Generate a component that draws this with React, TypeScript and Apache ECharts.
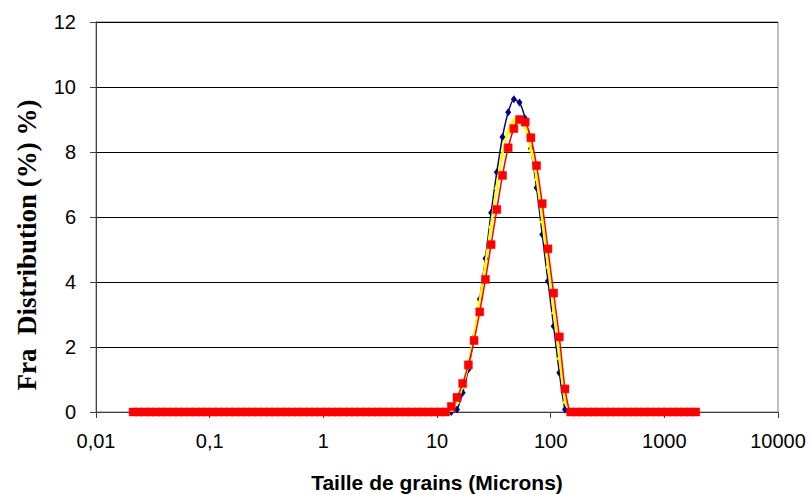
import React, { useEffect, useRef } from "react";
import * as echarts from "echarts";

// Particle size classes (µm), geometric centers
const SIZES = [
  0.0212, 0.0238, 0.0267, 0.0299, 0.0336, 0.0377, 0.0423, 0.0474, 0.0532, 0.0597,
  0.067, 0.0752, 0.0844, 0.0947, 0.1062, 0.1192, 0.1337, 0.15, 0.1683, 0.1889,
  0.2119, 0.2377, 0.2667, 0.2993, 0.3358, 0.3768, 0.4228, 0.4744, 0.5322, 0.5972,
  0.6701, 0.7518, 0.8435, 0.9464, 1.062, 1.192, 1.337, 1.5, 1.683, 1.888,
  2.119, 2.377, 2.667, 2.993, 3.358, 3.768, 4.228, 4.744, 5.322, 5.972,
  6.701, 7.518, 8.435, 9.464, 10.62, 11.92, 13.37, 15.0, 16.83, 18.88,
  21.19, 23.77, 26.67, 29.93, 33.58, 37.68, 42.28, 47.44, 53.22, 59.72,
  67.01, 75.18, 84.35, 94.64, 106.2, 119.2, 133.7, 150.0, 168.3, 188.8,
  211.9, 237.7, 266.7, 299.3, 335.8, 376.8, 422.8, 474.4, 532.2, 597.2,
  670.1, 751.8, 843.5, 946.4, 1062, 1192, 1337, 1500, 1683, 1888,
];

const BLUE = [
  0, 0, 0, 0, 0, 0, 0, 0, 0, 0,
  0, 0, 0, 0, 0, 0, 0, 0, 0, 0,
  0, 0, 0, 0, 0, 0, 0, 0, 0, 0,
  0, 0, 0, 0, 0, 0, 0, 0, 0, 0,
  0, 0, 0, 0, 0, 0, 0, 0, 0, 0,
  0, 0, 0, 0, 0, 0, 0, 0.08, 0.59, 1.31,
  2.3, 3.47, 4.72, 6.13, 7.38, 8.46, 9.22, 9.62, 9.52, 9.02,
  8.1, 6.9, 5.46, 4.03, 2.64, 1.21, 0.08, 0, 0, 0,
  0, 0, 0, 0, 0, 0, 0, 0, 0, 0,
  0, 0, 0, 0, 0, 0, 0, 0, 0, 0,
];

const YELLOW = [
  0, 0, 0, 0, 0, 0, 0, 0, 0, 0,
  0, 0, 0, 0, 0, 0, 0, 0, 0, 0,
  0, 0, 0, 0, 0, 0, 0, 0, 0, 0,
  0, 0, 0, 0, 0, 0, 0, 0, 0, 0,
  0, 0, 0, 0, 0, 0, 0, 0, 0, 0,
  0, 0, 0, 0, 0, 0, 0.1, 0.35, 0.8, 1.45,
  2.35, 3.4, 4.55, 5.75, 6.95, 7.95, 8.65, 8.98, 9.0, 8.8,
  8.1, 7.2, 5.9, 4.5, 3.1, 1.7, 0.35, 0, 0, 0,
  0, 0, 0, 0, 0, 0, 0, 0, 0, 0,
  0, 0, 0, 0, 0, 0, 0, 0, 0, 0,
];

const RED = [
  0, 0, 0, 0, 0, 0, 0, 0, 0, 0,
  0, 0, 0, 0, 0, 0, 0, 0, 0, 0,
  0, 0, 0, 0, 0, 0, 0, 0, 0, 0,
  0, 0, 0, 0, 0, 0, 0, 0, 0, 0,
  0, 0, 0, 0, 0, 0, 0, 0, 0, 0,
  0, 0, 0, 0, 0, 0, 0.17, 0.45, 0.88, 1.45,
  2.2, 3.08, 4.08, 5.15, 6.23, 7.28, 8.13, 8.72, 9.0, 8.92,
  8.44, 7.58, 6.41, 5.02, 3.66, 2.31, 0.71, 0, 0, 0,
  0, 0, 0, 0, 0, 0, 0, 0, 0, 0,
  0, 0, 0, 0, 0, 0, 0, 0, 0, 0,
];

const X_TICK_LABELS = ["0,01", "0,1", "1", "10", "100", "1000", "10000"];
const X_TITLE = "Taille de grains (Microns)";
const Y_TITLE = "Fra  Distribution (%) %)";

const SANS = "'Liberation Sans', Arial, sans-serif";
const SERIF = "'Liberation Serif', 'Times New Roman', serif";

export default function App() {
  const ref = useRef<HTMLDivElement>(null);
  useEffect(() => {
    const chart = echarts.init(ref.current!, null, { renderer: "svg" });
    const pairs = (vals: number[]) => SIZES.map((s, i) => [s, vals[i]]);
    chart.setOption({
      animation: false,
      backgroundColor: "#ffffff",
      grid: {
        left: 96,
        right: 34,
        top: 22,
        bottom: 83,
        show: true,
        borderColor: "#808080",
        borderWidth: 1,
      },
      xAxis: {
        type: "log",
        logBase: 10,
        min: 0.01,
        max: 10000,
        axisLine: { onZero: false, lineStyle: { color: "#404040", width: 1 } },
        axisTick: { length: 6, lineStyle: { color: "#404040" } },
        axisLabel: {
          margin: 19,
          fontSize: 20,
          color: "#000",
          fontFamily: SANS,
          formatter: (v: number) => {
            const idx = Math.round(Math.log10(v)) + 2;
            return X_TICK_LABELS[idx] ?? String(v);
          },
        },
        splitLine: { show: false },
      },
      yAxis: {
        type: "value",
        min: 0,
        max: 12,
        interval: 2,
        axisLine: { show: true, onZero: false, lineStyle: { color: "#404040", width: 1 } },
        axisTick: { show: true, length: 6, lineStyle: { color: "#404040" } },
        axisLabel: { margin: 20, fontSize: 20, color: "#000", fontFamily: SANS },
        splitLine: { show: true, lineStyle: { color: "#000", width: 1 } },
      },
      graphic: [
        {
          type: "text",
          x: 27,
          y: 245,
          rotation: Math.PI / 2,
          style: {
            text: Y_TITLE,
            font: `bold 27px ${SERIF}`,
            fill: "#000",
            textAlign: "center",
            textVerticalAlign: "middle",
          },
        },
        {
          type: "text",
          x: 437,
          y: 482,
          style: {
            text: X_TITLE,
            font: `bold 21px ${SANS}`,
            fill: "#000",
            textAlign: "center",
            textVerticalAlign: "middle",
          },
        },
      ],
      series: [
        {
          type: "line",
          data: pairs(BLUE),
          smooth: 0.2,
          showAllSymbol: true,
          symbol: "diamond",
          symbolSize: [6, 8],
          lineStyle: { color: "#000080", width: 1.5 },
          itemStyle: { color: "#000080", borderWidth: 0 },
          z: 2,
        },
        {
          type: "line",
          data: pairs(YELLOW),
          smooth: 0.2,
          showAllSymbol: true,
          symbol: "triangle",
          symbolSize: 6,
          lineStyle: { color: "#FFFF00", width: 2.5 },
          itemStyle: { color: "#FFFF00", borderWidth: 0 },
          z: 3,
        },
        {
          type: "line",
          data: pairs(RED),
          smooth: 0.2,
          showAllSymbol: true,
          symbol: "rect",
          symbolSize: 8,
          lineStyle: { color: "#FF0000", width: 1.5 },
          itemStyle: { color: "#FF0000", borderColor: "#FF0000", borderWidth: 0.5 },
          z: 4,
        },
      ],
    });
    return () => chart.dispose();
  }, []);
  return (
    <div
      ref={ref}
      style={{ position: "fixed", left: 0, top: 0, width: 812, height: 495, background: "#fff" }}
    />
  );
}
